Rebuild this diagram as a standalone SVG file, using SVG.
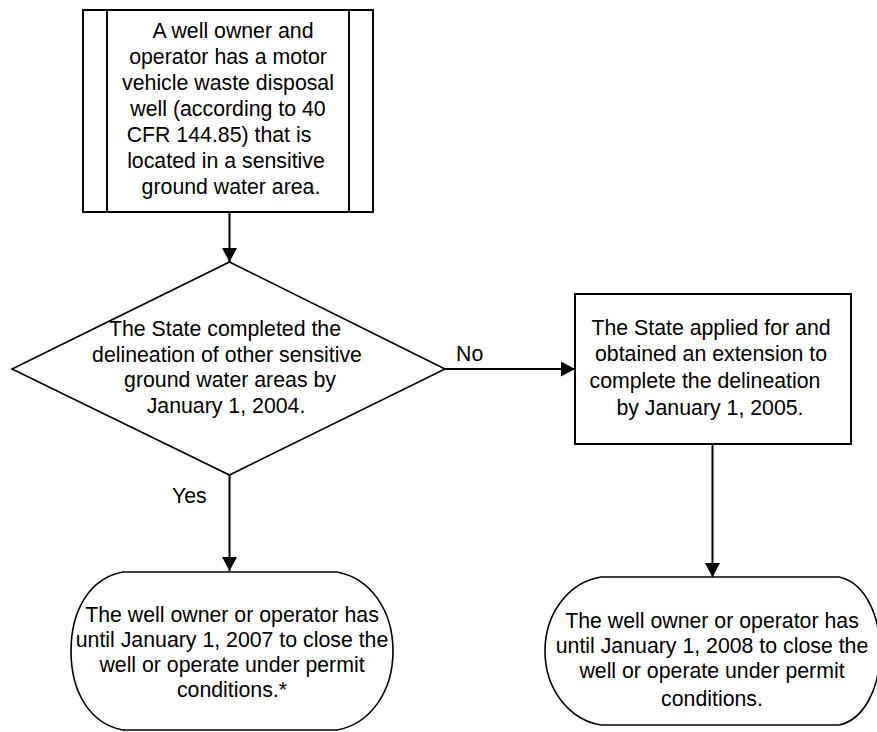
<svg xmlns="http://www.w3.org/2000/svg" width="877" height="732" viewBox="0 0 877 732">
<style>
  text { font-family: "Liberation Sans", Arial, sans-serif; font-size: 21.3px; fill: #000; }
  .c { text-anchor: middle; }
  .shape { fill: #fff; stroke: #000; stroke-width: 2; }
  .thin { fill: #fff; stroke: #000; stroke-width: 1.6; }
  .conn { fill: none; stroke: #000; stroke-width: 2; }
</style>
<defs>
  <marker id="arrow" markerUnits="userSpaceOnUse" markerWidth="16" markerHeight="16" refX="14" refY="7.5" orient="auto">
    <path d="M0,0 L14,7.5 L0,15 Z" fill="#000"/>
  </marker>
</defs>
<rect width="877" height="732" fill="#fff"/>

<g id="connectors">
  <line class="conn" x1="229.5" y1="212" x2="229.5" y2="262" marker-end="url(#arrow)"/>
  <line class="conn" x1="229.5" y1="475" x2="229.5" y2="571" marker-end="url(#arrow)"/>
  <line class="conn" x1="445" y1="369" x2="575" y2="369" marker-end="url(#arrow)"/>
  <line class="conn" x1="712.5" y1="444" x2="712.5" y2="577" marker-end="url(#arrow)"/>
  <text x="456" y="361">No</text>
  <text x="172" y="503">Yes</text>
</g>

<g id="start">
  <rect class="shape" x="83" y="10" width="290" height="202"/>
  <line class="conn" x1="107" y1="10" x2="107" y2="212"/>
  <line class="conn" x1="349" y1="10" x2="349" y2="212"/>
  <text class="c" x="233" y="38">A well owner and</text>
  <text class="c" x="228" y="64">operator has a motor</text>
  <text class="c" x="228" y="90">vehicle waste disposal</text>
  <text class="c" x="228" y="116">well (according to 40</text>
  <text class="c" x="219" y="142">CFR 144.85) that is</text>
  <text class="c" x="226" y="168">located in a sensitive</text>
  <text class="c" x="231" y="194">ground water area.</text>
</g>

<g id="decision">
  <polygon class="thin" points="229.5,262 445,369 229.5,475 12,369"/>
  <text class="c" x="225" y="336">The State completed the</text>
  <text class="c" x="227" y="362">delineation of other sensitive</text>
  <text class="c" x="230" y="387">ground water areas by</text>
  <text class="c" x="226" y="413">January 1, 2004.</text>
</g>

<g id="extension">
  <rect class="shape" x="575" y="294" width="276" height="150"/>
  <text class="c" x="711" y="335">The State applied for and</text>
  <text class="c" x="711" y="361">obtained an extension to</text>
  <text class="c" x="705" y="388">complete the delineation</text>
  <text class="c" x="710" y="415">by January 1, 2005.</text>
</g>

<g id="end2007">
  <path class="thin" d="M123,572 L337,572 C370,578 393,610 393,651 C393,692 370,724 337,730 L123,730 C90,724 71,692 71,651 C71,610 90,578 123,572 Z"/>
  <text class="c" x="232" y="622">The well owner or operator has</text>
  <text class="c" x="232" y="647">until January 1, 2007 to close the</text>
  <text class="c" x="232" y="672">well or operate under permit</text>
  <text class="c" x="232" y="697">conditions.*</text>
</g>

<g id="end2008">
  <path class="thin" d="M601,577 L839,577 C863,582 880,612 880,651 C880,690 863,720 839,725 L601,725 C570,720 545,690 545,651 C545,612 570,582 601,577 Z"/>
  <text class="c" x="712" y="628">The well owner or operator has</text>
  <text class="c" x="712" y="653">until January 1, 2008 to close the</text>
  <text class="c" x="712" y="678">well or operate under permit</text>
  <text class="c" x="712" y="706">conditions.</text>
</g>
</svg>
